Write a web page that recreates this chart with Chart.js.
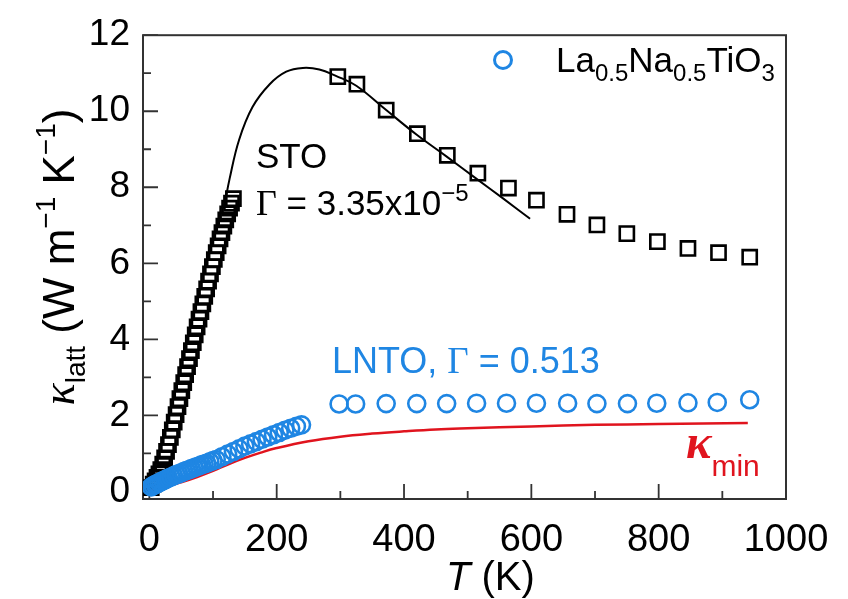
<!DOCTYPE html>
<html>
<head>
<meta charset="utf-8">
<script src="https://cdn.jsdelivr.net/npm/chart.js@4.4.1/dist/chart.umd.min.js"></script>
<style>
  html, body { margin: 0; padding: 0; background: #fff; }
  #wrap { width: 848px; height: 599px; }
</style>
</head>
<body>
<div id="wrap"><canvas id="kappaChart" width="848" height="599"></canvas></div>
<script>
// Lattice thermal conductivity vs temperature: STO, LNTO and the kappa_min limit

// STO measurements, low temperature run (K, W m-1 K-1)
const stoLowT = [3, 6, 9, 12, 15, 18, 21, 24, 27, 30, 33, 36, 39, 42, 45, 48, 51, 54, 57, 60,
                 63, 66, 69, 72, 75, 78, 81, 84, 87, 90, 93, 96, 99, 102, 105, 108, 111, 114,
                 117, 120, 123, 126, 129, 132];
const stoLowK = [0.10, 0.19, 0.28, 0.37, 0.46, 0.57, 0.72, 0.88, 1.05, 1.23, 1.42, 1.62, 1.82,
                 2.02, 2.23, 2.44, 2.65, 2.86, 3.07, 3.28, 3.49, 3.70, 3.91, 4.12, 4.33, 4.53,
                 4.73, 4.93, 5.13, 5.33, 5.53, 5.72, 5.91, 6.10, 6.28, 6.46, 6.64, 6.81, 6.98,
                 7.14, 7.30, 7.45, 7.58, 7.70];
// STO measurements, high temperature run
const stoHighT = [296, 326, 372, 421, 468, 516, 564, 608, 656, 703, 750, 798, 846, 894, 943];
const stoHighK = [10.91, 10.71, 10.03, 9.41, 8.84, 8.37, 7.98, 7.66, 7.29, 7.01, 6.78, 6.57,
                  6.39, 6.28, 6.16];

// Callaway model for STO, Gamma = 3.35e-5
const stoFitT = [118, 126, 141, 162, 189, 215, 241, 267, 293, 325, 372, 420, 466, 514, 556, 598];
const stoFitK = [7.53, 8.22, 9.25, 10.11, 10.71, 11.04, 11.14, 11.10, 10.93, 10.67, 10.03, 9.38,
                 8.82, 8.22, 7.70, 7.17];

// La0.5Na0.5TiO3 (LNTO) measurements
const lntoLowT = [3, 6, 9, 12, 15, 18, 21, 24, 27, 30, 34, 38, 42, 46, 50, 54, 58, 62, 66, 70,
                  74, 78, 82, 86, 90, 95, 100, 105, 114, 123, 132, 141, 150, 159, 168, 177,
                  186, 195, 204, 213, 222, 231, 239];
const lntoLowK = [0.12, 0.15, 0.18, 0.20, 0.23, 0.25, 0.28, 0.30, 0.33, 0.35, 0.38, 0.41, 0.44,
                  0.46, 0.49, 0.52, 0.55, 0.57, 0.60, 0.62, 0.65, 0.67, 0.70, 0.72, 0.74, 0.78,
                  0.81, 0.84, 0.91, 0.98, 1.05, 1.12, 1.19, 1.25, 1.31, 1.37, 1.43, 1.49, 1.55,
                  1.61, 1.66, 1.71, 1.75];
const lntoHighT = [298, 324, 372, 420, 467, 514, 561, 608, 657, 703, 751, 797, 846, 892, 943];
const lntoHighK = [2.30, 2.30, 2.31, 2.31, 2.31, 2.32, 2.32, 2.32, 2.32, 2.31, 2.31, 2.32, 2.33,
                   2.34, 2.41];

// Minimum (amorphous limit) thermal conductivity
const kminT = [2, 25, 50, 75, 100, 125, 150, 175, 200, 250, 300, 350, 400, 450, 500, 600, 700, 800, 940];
const kminK = [0.05, 0.12, 0.24, 0.38, 0.54, 0.72, 0.88, 1.02, 1.14, 1.32, 1.44, 1.52, 1.58,
               1.63, 1.66, 1.71, 1.75, 1.77, 1.80];

// axis ticks
const xTicks = [0, 200, 400, 600, 800, 1000];
const xMinor = [100, 300, 500, 700, 900];
const yTicks = [0, 2, 4, 6, 8, 10, 12];
const yMinor = [1, 3, 5, 7, 9, 11];

const BLUE = '#1f86e3';
const RED = '#e0141e';
const SANS = '"Liberation Sans", Arial, sans-serif';
const SERIF = '"Liberation Serif", "Times New Roman", serif';

function pts(xs, ys) {
    return xs.map((x, i) => ({ x: x, y: ys[i] }));
}

// draw a run of text pieces with their own font / offset, left to right
function drawRuns(ctx, runs, x, y) {
    let cx = x;
    runs.forEach(r => {
        ctx.font = r.font;
        ctx.fillStyle = r.color || '#000';
        ctx.fillText(r.text, cx, y + (r.dy || 0));
        cx += ctx.measureText(r.text).width;
    });
    return cx - x;
}

function runsWidth(ctx, runs) {
    let w = 0;
    runs.forEach(r => { ctx.font = r.font; w += ctx.measureText(r.text).width; });
    return w;
}

// frame and inward tick marks
const framePlugin = {
    id: 'frame',
    beforeDatasetsDraw(chart) {
        const ctx = chart.ctx;
        const a = chart.chartArea;
        const xs = chart.scales.x, ys = chart.scales.y;
        ctx.save();
        ctx.strokeStyle = '#333';
        ctx.lineWidth = 2;
        ctx.strokeRect(a.left, a.top, a.right - a.left, a.bottom - a.top);
        ctx.lineWidth = 1.8;
        ctx.beginPath();
        xTicks.forEach(v => { const p = xs.getPixelForValue(v); ctx.moveTo(p, a.bottom); ctx.lineTo(p, a.bottom - 15); });
        xMinor.forEach(v => { const p = xs.getPixelForValue(v); ctx.moveTo(p, a.bottom); ctx.lineTo(p, a.bottom - 8); });
        yTicks.forEach(v => { const p = ys.getPixelForValue(v); ctx.moveTo(a.left, p); ctx.lineTo(a.left + 15, p); });
        yMinor.forEach(v => { const p = ys.getPixelForValue(v); ctx.moveTo(a.left, p); ctx.lineTo(a.left + 8, p); });
        ctx.stroke();
        ctx.restore();
    }
};

// labels, legend and axis titles
const textPlugin = {
    id: 'labels',
    afterDraw(chart) {
        const ctx = chart.ctx;
        ctx.save();
        ctx.textBaseline = 'alphabetic';
        ctx.textAlign = 'left';

        drawRuns(ctx, [{ text: 'STO', font: '35px ' + SANS }], 256, 168);
        drawRuns(ctx, [
            { text: 'Γ', font: '36px ' + SERIF },
            { text: ' = 3.35x10', font: '35px ' + SANS },
            { text: '−5', font: '24px ' + SANS, dy: -14 }
        ], 256, 215);

        drawRuns(ctx, [
            { text: 'LNTO, ', font: '36px ' + SANS, color: BLUE },
            { text: 'Γ', font: '37px ' + SERIF, color: BLUE },
            { text: ' = 0.513', font: '36px ' + SANS, color: BLUE }
        ], 332, 373);

        drawRuns(ctx, [
            { text: 'κ', font: 'italic bold 48px ' + SERIF, color: RED },
            { text: 'min', font: '30px ' + SANS, color: RED, dy: 18 }
        ], 686, 458);

        // legend
        ctx.strokeStyle = BLUE;
        ctx.lineWidth = 3;
        ctx.beginPath();
        ctx.arc(503, 60, 8.5, 0, Math.PI * 2);
        ctx.stroke();
        drawRuns(ctx, [
            { text: 'La', font: '35px ' + SANS },
            { text: '0.5', font: '24px ' + SANS, dy: 9 },
            { text: 'Na', font: '35px ' + SANS },
            { text: '0.5', font: '24px ' + SANS, dy: 9 },
            { text: 'TiO', font: '35px ' + SANS },
            { text: '3', font: '24px ' + SANS, dy: 9 }
        ], 556, 72);

        // x axis title
        drawRuns(ctx, [
            { text: 'T', font: 'italic 40px ' + SANS },
            { text: ' (K)', font: '40px ' + SANS }
        ], 446, 590);

        // y axis title, rotated
        const yt = [
            { text: 'κ', font: 'italic 46px ' + SERIF },
            { text: 'latt', font: '28px ' + SANS, dy: 11 },
            { text: ' (W m', font: '44px ' + SANS },
            { text: '−1', font: '28px ' + SANS, dy: -19 },
            { text: ' K', font: '44px ' + SANS },
            { text: '−1', font: '28px ' + SANS, dy: -19 },
            { text: ')', font: '44px ' + SANS }
        ];
        ctx.translate(74, 257);
        ctx.rotate(-Math.PI / 2);
        drawRuns(ctx, yt, -runsWidth(ctx, yt) / 2, 0);
        ctx.restore();
    }
};

const ctx = document.getElementById('kappaChart').getContext('2d');
const kappaChart = new Chart(ctx, {
    type: 'scatter',
    data: {
        datasets: [
            {
                label: 'LNTO',
                data: pts(lntoLowT, lntoLowK).concat(pts(lntoHighT, lntoHighK)),
                pointStyle: 'circle',
                pointRadius: 8.5,
                borderColor: BLUE,
                backgroundColor: 'rgba(0,0,0,0)',
                borderWidth: 2.6
            },
            {
                label: 'STO',
                data: pts(stoLowT, stoLowK).concat(pts(stoHighT, stoHighK)),
                pointStyle: 'rect',
                pointRadius: 10,
                borderColor: '#000',
                backgroundColor: 'rgba(0,0,0,0)',
                borderWidth: 2.6
            },
            {
                label: 'STO fit',
                data: pts(stoFitT, stoFitK),
                showLine: true,
                tension: 0.4,
                pointRadius: 0,
                borderColor: '#000',
                borderWidth: 2
            },
            {
                label: 'kappa min',
                data: pts(kminT, kminK),
                showLine: true,
                tension: 0.4,
                pointRadius: 0,
                borderColor: RED,
                borderWidth: 2.5
            }
        ]
    },
    options: {
        responsive: false,
        animation: false,
        devicePixelRatio: 1,
        layout: {
            padding: { left: 0, right: 62, top: 27, bottom: 0 }
        },
        scales: {
            x: {
                type: 'linear',
                min: -10,
                max: 1000,
                grid: { display: false, drawTicks: false },
                border: { display: false },
                afterBuildTicks: s => { s.ticks = xTicks.map(v => ({ value: v })); },
                afterFit: s => { s.height = 100; },
                ticks: {
                    color: '#000',
                    padding: 19,
                    maxRotation: 0,
                    callback: v => String(v),
                    font: { family: SANS, size: 38 }
                }
            },
            y: {
                type: 'linear',
                min: -0.2,
                max: 12,
                grid: { display: false, drawTicks: false },
                border: { display: false },
                afterBuildTicks: s => { s.ticks = yTicks.map(v => ({ value: v })); },
                afterFit: s => { s.width = 143; },
                ticks: {
                    color: '#000',
                    padding: 13,
                    callback: v => String(v),
                    font: { family: SANS, size: 37 }
                }
            }
        },
        plugins: {
            legend: { display: false },
            tooltip: { enabled: false }
        }
    },
    plugins: [framePlugin, textPlugin]
});
</script>
</body>
</html>
